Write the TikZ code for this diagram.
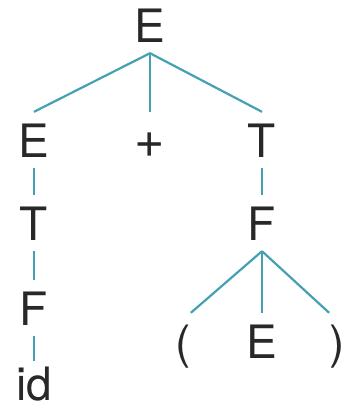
\documentclass[tikz,border=0pt]{standalone}
\usepackage{fontspec}
\setmainfont{TeX Gyre Heros}
\definecolor{edgeblue}{RGB}{68,160,178}
\definecolor{symgray}{RGB}{40,40,40}

\begin{document}
\begin{tikzpicture}[x=1pt, y=-1pt,
    every node/.style={font=\fontsize{46}{50}\selectfont, text=symgray,
      anchor=base, inner xsep=0pt, inner ysep=11pt,
      text height=34pt, text depth=0pt},
    branch/.style={edgeblue, line width=2.2pt}]
    \useasboundingbox (0,0) rectangle (345,410);

    % Wurzel und erste Ebene
    \node (e0) at (150,42) {E};
    \node (e1) at (34,157) {E};
    \node (plus) at (150,157) {\fontsize{52}{56}\selectfont +};
    \node (t1) at (262,157) {T};

    % linker Ast
    \node (t2) at (34,240) {T};
    \node (f1) at (34,325) {F};
    \node[inner ysep=0pt, text height=32pt] (id) at (34,400) {id};

    % rechter Ast
    \node (f2) at (262,240) {F};
    \node (lp) at (183,358) {(};
    \node (e2) at (262,358) {E};
    \node (rp) at (337,358) {)};

    \draw[branch] (e0.south) -- (e1.north);
    \draw[branch] (e0.south) -- (plus.north);
    \draw[branch] (e0.south) -- (t1.north);
    \draw[branch] (e1.south) -- (t2.north);
    \draw[branch] (t2.south) -- (f1.north);
    \draw[branch] (f1.south) -- ([yshift=7pt]id.north);
    \draw[branch] (t1.south) -- (f2.north);
    \draw[branch] (f2.south) -- (lp.north east);
    \draw[branch] (f2.south) -- (e2.north);
    \draw[branch] (f2.south) -- (rp.north west);
\end{tikzpicture}
\end{document}
